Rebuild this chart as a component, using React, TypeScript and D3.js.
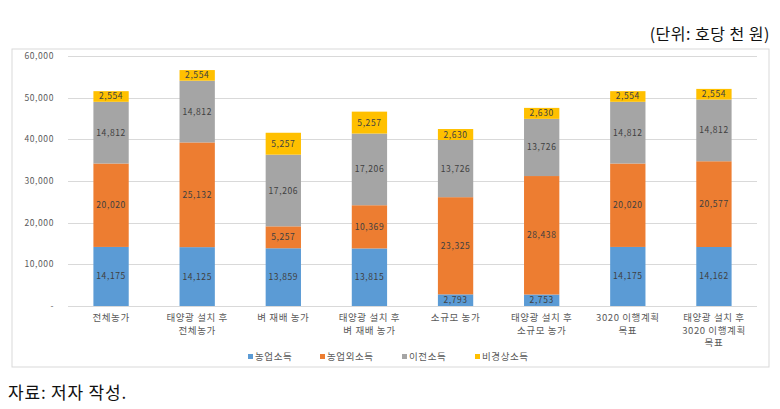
import React from "react";
import * as d3 from "d3";

const categories = [
  "전체농가",
  "태양광 설치 후\n전체농가",
  "벼 재배 농가",
  "태양광 설치 후\n벼 재배 농가",
  "소규모 농가",
  "태양광 설치 후\n소규모 농가",
  "3020 이행계획\n목표",
  "태양광 설치 후\n3020 이행계획\n목표",
];
const seriesNames = ["농업소득", "농업외소득", "이전소득", "비경상소득"];
const farmIncome = [14175, 14125, 13859, 13815, 2793, 2753, 14175, 14162];
const nonFarmIncome = [20020, 25132, 5257, 10369, 23325, 28438, 20020, 20577];
const transferIncome = [14812, 14812, 17206, 17206, 13726, 13726, 14812, 14812];
const irregularIncome = [2554, 2554, 5257, 5257, 2630, 2630, 2554, 2554];
const yTicks = [0, 10000, 20000, 30000, 40000, 50000, 60000];
const colors = ["#5B9BD5", "#ED7D31", "#A5A5A5", "#FFC000"];

const W = 780;
const H = 409;
const plot = { left: 68, right: 757, top: 56, bottom: 306 };
const FONT = "'Noto Sans CJK KR', 'Noto Sans', sans-serif";

export default function App() {
  const allSeries = [farmIncome, nonFarmIncome, transferIncome, irregularIncome];
  const rows = categories.map((c, i) => {
    const r: any = { cat: c };
    seriesNames.forEach((s, k) => (r[s] = allSeries[k][i]));
    return r;
  });
  const stacked = d3.stack<any>().keys(seriesNames)(rows);

  const x = d3
    .scaleBand<string>()
    .domain(categories)
    .range([plot.left, plot.right])
    .paddingInner(0.59)
    .paddingOuter(0.295);
  const y = d3.scaleLinear().domain([0, 60000]).range([plot.bottom, plot.top]);
  const fmt = d3.format(",");

  const legendX = [248, 320, 402, 475];

  return (
    <svg
      width={W}
      height={H}
      style={{ position: "absolute", left: 0, top: 0, background: "#fff" }}
    >
      <text
        x={770}
        y={40}
        textAnchor="end"
        fontFamily={FONT}
        fontSize={16}
        letterSpacing={0.5}
        fill="#111"
      >
        (단위: 호당 천 원)
      </text>
      <rect x={12} y={49} width={757} height={318} fill="#fff" stroke="#d9d9d9" strokeWidth={1} />
      {yTicks.map((t) => (
        <g key={t}>
          <line
            x1={plot.left}
            x2={plot.right}
            y1={Math.round(y(t)) + 0.5}
            y2={Math.round(y(t)) + 0.5}
            stroke="#d9d9d9"
            strokeWidth={1}
          />
          <text
            x={54}
            y={y(t) + 3}
            textAnchor="end"
            fontFamily={FONT}
            fontSize={8.5}
            letterSpacing={0.6}
            fill="#595959"
          >
            {t === 0 ? "-" : fmt(t)}
          </text>
        </g>
      ))}
      {stacked.map((layer, k) =>
        layer.map((d, i) => {
          const x0 = x(categories[i]) as number;
          const y0 = y(d[1]);
          const y1 = y(d[0]);
          return (
            <g key={`${k}-${i}`}>
              <rect x={x0} y={y0} width={x.bandwidth()} height={y1 - y0} fill={colors[k]} />
              <text
                x={x0 + x.bandwidth() / 2}
                y={(y0 + y1) / 2 + 3}
                textAnchor="middle"
                fontFamily={FONT}
                fontSize={8.5}
                letterSpacing={0.6}
                fill="#404040"
              >
                {fmt(allSeries[k][i])}
              </text>
            </g>
          );
        })
      )}
      {categories.map((c) => {
        const cx = (x(c) as number) + x.bandwidth() / 2;
        return c.split("\n").map((line, j) => (
          <text
            key={c + j}
            x={cx}
            y={321 + j * 12.5}
            textAnchor="middle"
            fontFamily={FONT}
            fontSize={9.5}
            letterSpacing={0.6}
            fill="#595959"
          >
            {line}
          </text>
        ));
      })}
      {seriesNames.map((s, k) => (
        <g key={s}>
          <rect x={legendX[k]} y={354} width={5} height={5} fill={colors[k]} />
          <text
            x={legendX[k] + 7}
            y={359.5}
            fontFamily={FONT}
            fontSize={9.5}
            letterSpacing={0.6}
            fill="#595959"
          >
            {s}
          </text>
        </g>
      ))}
      <text x={8} y={399} fontFamily={FONT} fontSize={17} letterSpacing={0.8} fill="#111">
        자료: 저자 작성.
      </text>
    </svg>
  );
}
